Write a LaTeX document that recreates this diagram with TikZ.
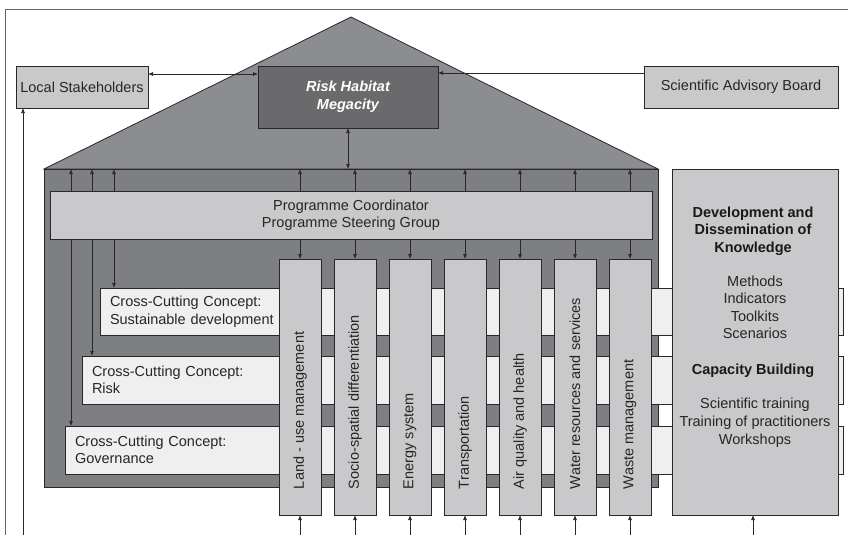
\documentclass[tikz,border=0pt]{standalone}
\usepackage{fontspec}
\setmainfont{Liberation Sans}
\usetikzlibrary{arrows.meta}
\definecolor{roofgray}{RGB}{140,141,144}
\definecolor{bodygray}{RGB}{126,127,131}
\definecolor{darkbox}{RGB}{106,106,108}
\definecolor{lightbox}{RGB}{201,201,203}
\definecolor{bandfill}{RGB}{239,239,239}
\definecolor{edge}{RGB}{40,40,40}
\definecolor{framegray}{RGB}{100,100,100}

\begin{document}
\begin{tikzpicture}[x=1pt,y=-1pt,
  every node/.style={inner sep=0pt, outer sep=0pt},
  txt/.style={font=\fontsize{14.5pt}{17.5pt}\selectfont, text=black!85},
  boldtxt/.style={font=\fontsize{14.5pt}{17.5pt}\selectfont\bfseries, text=black!90},
  box/.style={txt, draw=edge, line width=0.8pt, fill=lightbox, align=center},
  band/.style={txt, draw=edge, line width=0.8pt, fill=bandfill, align=left, inner xsep=10pt},
  column/.style={draw=edge, line width=0.8pt, fill=lightbox, minimum width=42pt, minimum height=256pt},
  tip/.tip={Latex[length=5pt,width=4pt]},
  arr/.style={draw=edge, line width=0.7pt, -tip},
  darr/.style={draw=edge, line width=0.7pt, tip-tip},
]
\useasboundingbox (0,0) rectangle (848,535);
\fill[white] (0,0) rectangle (848,535);

% outer frame
\draw[framegray, line width=0.8pt] (5,535) -- (5,9.5) -- (848,9.5);

% roof and house body
\filldraw[fill=roofgray, draw=edge, line width=0.8pt] (44,169) -- (351,17) -- (658,169) -- cycle;
\node[draw=edge, line width=0.8pt, fill=bodygray, minimum width=614pt, minimum height=318pt] (body) at (351,328) {};

% cross-cutting concept bands
\node[band, text width=723pt, minimum height=47pt] (sus) at (471.5,311.5) {Cross-Cutting Concept:\\Sustainable development};
\node[band, text width=741pt, minimum height=48pt] (risk) at (462.5,380) {Cross-Cutting Concept:\\Risk};
\node[band, text width=758pt, minimum height=48pt] (gov) at (454,450) {Cross-Cutting Concept:\\Governance};

% links from the top of the house to the bands
\coordinate (ct1) at (71,169);
\coordinate (ct2) at (92,169);
\coordinate (ct3) at (114,169);
\draw[darr] (ct1) -- (ct1 |- gov.north);
\draw[darr] (ct2) -- (ct2 |- risk.north);
\draw[darr] (ct3) -- (ct3 |- sus.north);

% programme coordination
\node[box, minimum width=602pt, minimum height=48pt] (prog) at (351,215) {Programme Coordinator\\Programme Steering Group};

% thematic columns
\foreach \lbl [count=\i] in {Land - use management, Socio-spatial differentiation, Energy system, Transportation, Air quality and health, Water resources and services, Waste management}{
  \node[column] (col\i) at ({300+55*(\i-1)},387) {};
  \node[txt, rotate=90, anchor=west] (lab\i) at ({300+55*(\i-1)},489) {\lbl};
  \draw[arr] (prog.north -| col\i) -- (body.north -| col\i);
  \draw[arr] (prog.south -| col\i) -- (col\i.north);
  \coordinate (b\i) at ({300+55*(\i-1)},535);
  \draw[arr] (b\i) -- (col\i.south);
}

% knowledge and capacity building
\node[draw=edge, line width=0.8pt, fill=lightbox, minimum width=166pt, minimum height=346pt] (dev) at (755,342) {};
\node[boldtxt, anchor=base] (dk1) at (753,217) {Development and};
\node[boldtxt, anchor=base] (dk2) at (753,234) {Dissemination of};
\node[boldtxt, anchor=base] (dk3) at (753,252) {Knowledge};
\node[txt, anchor=base] (dk4) at (755,286) {Methods};
\node[txt, anchor=base] (dk5) at (755,303) {Indicators};
\node[txt, anchor=base] (dk6) at (755,321) {Toolkits};
\node[txt, anchor=base] (dk7) at (755,338) {Scenarios};
\node[boldtxt, anchor=base] (cb1) at (753,374) {Capacity Building};
\node[txt, anchor=base] (cb2) at (755,408) {Scientific training};
\node[txt, anchor=base] (cb3) at (755,426) {Training of practitioners};
\node[txt, anchor=base] (cb4) at (755,444) {Workshops};
\coordinate (bdev) at (753,535);
\draw[arr] (bdev) -- (bdev |- dev.south);

% top level
\node[draw=edge, line width=0.8pt, fill=darkbox, minimum width=180pt, minimum height=62pt,
      font=\fontsize{14.5pt}{18pt}\selectfont\bfseries\itshape, text=white, align=center] (rhm) at (348,97) {Risk Habitat\\Megacity};
\node[box, minimum width=132pt, minimum height=42pt] (local) at (82,87) {Local Stakeholders};
\node[box, minimum width=194pt, minimum height=42pt] (sab) at (741,87) {Scientific Advisory Board};

\draw[darr] ([yshift=13pt]local.east) -- ([yshift=13pt]local.east -| rhm.west);
\draw[arr] ([yshift=14pt]sab.west) -- ([yshift=14pt]sab.west -| rhm.east);
\draw[darr] (rhm.south) -- (rhm.south |- body.north);

\coordinate (lsb) at (23,535);
\draw[arr] (lsb) -- (lsb |- local.south);
\end{tikzpicture}
\end{document}
